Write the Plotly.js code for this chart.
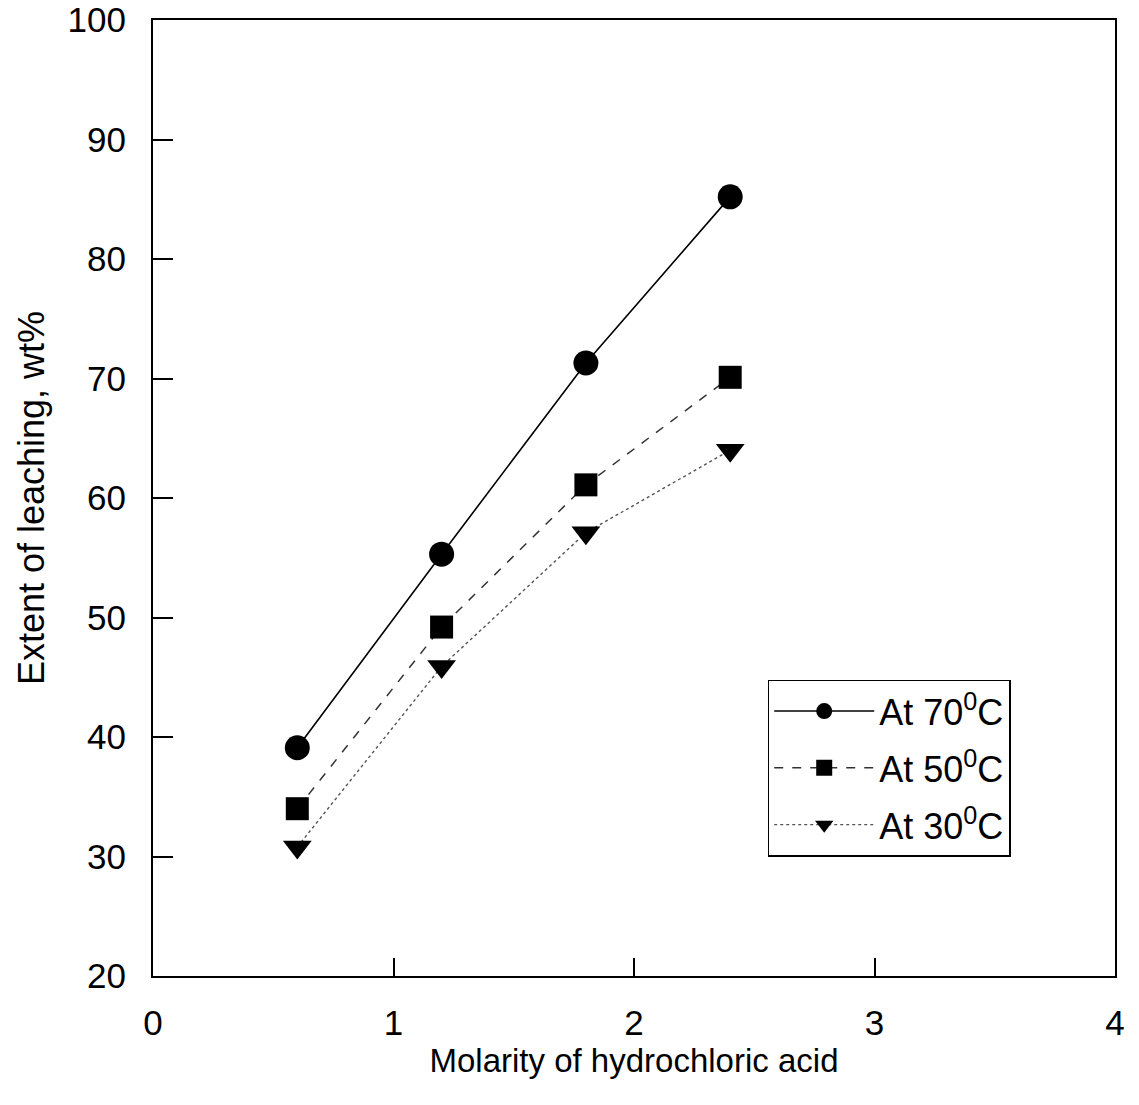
<!DOCTYPE html>
<html>
<head>
<meta charset="utf-8">
<script src="https://cdn.plot.ly/plotly-3.0.1.min.js"></script>
<style>
  html, body { margin: 0; padding: 0; background: #ffffff; }
  #chart { width: 1139px; height: 1105px; }
</style>
</head>
<body>
<div id="chart"></div>
<script>
// HCl molarity (M)
const molarity = [0.6, 1.2, 1.8, 2.4];

// Extent of leaching (wt%) at each temperature
const leach70 = [39.1, 55.3, 71.3, 85.2];
const leach50 = [34.0, 49.2, 61.1, 70.1];
const leach30 = [30.8, 45.9, 57.1, 64.0];

const seriesNames = ['At 70<sup>0</sup>C', 'At 50<sup>0</sup>C', 'At 30<sup>0</sup>C'];

const xTicks = [0, 1, 2, 3, 4];
const yTicks = [20, 30, 40, 50, 60, 70, 80, 90, 100];

const FONT = 'Arial, "Liberation Sans", Helvetica, sans-serif';

const traces = [
  {
    x: molarity, y: leach70, name: seriesNames[0], legendgroup: 'a',
    mode: 'lines+markers', type: 'scatter',
    line: { color: '#000000', width: 1.6, dash: 'solid' },
    marker: { symbol: 'circle', size: 25, color: '#000000' }
  },
  {
    x: molarity, y: leach50, name: seriesNames[1], legendgroup: 'b',
    mode: 'lines+markers', type: 'scatter',
    line: { color: '#333333', width: 1.5, dash: 'dash' },
    marker: { symbol: 'square', size: 23, color: '#000000' }
  },
  {
    x: molarity, y: leach30, name: seriesNames[2], legendgroup: 'c',
    mode: 'lines+markers', type: 'scatter',
    line: { color: '#555555', width: 1.4, dash: 'dot' },
    marker: { symbol: 'triangle-down', size: 25, color: '#000000' }
  }
];

const layout = {
  width: 1139,
  height: 1105,
  paper_bgcolor: '#ffffff',
  plot_bgcolor: '#ffffff',
  margin: { l: 153, r: 24, t: 20, b: 129 },
  font: { family: FONT, color: '#000000', size: 34 },
  showlegend: true,
  legend: {
    x: 0.639, y: 0.31, xanchor: 'left', yanchor: 'top',
    bgcolor: '#ffffff', bordercolor: '#000000', borderwidth: 1.5,
    font: { family: FONT, size: 36, color: '#000000' },
    traceorder: 'grouped', tracegroupgap: 7,
    itemsizing: 'trace', itemwidth: 100
  },
  xaxis: {
    range: [0, 4],
    tickvals: xTicks,
    ticktext: xTicks.map(String),
    ticks: 'inside', ticklen: 18, tickwidth: 2, tickcolor: '#000000',
    ticklabelstandoff: 15,
    ticklabeloverflow: 'allow',
    showline: true, linewidth: 2, linecolor: '#000000', mirror: true,
    showgrid: false, zeroline: false,
    tickfont: { family: FONT, size: 35, color: '#000000' },
    title: { text: 'Molarity of hydrochloric acid', font: { family: FONT, size: 33 }, standoff: 6 }
  },
  yaxis: {
    range: [20, 100],
    tickvals: yTicks,
    ticktext: yTicks.map(String),
    ticks: 'inside', ticklen: 20, tickwidth: 2, tickcolor: '#000000',
    ticklabelstandoff: 18,
    ticklabeloverflow: 'allow',
    showline: true, linewidth: 2, linecolor: '#000000', mirror: true,
    showgrid: false, zeroline: false,
    tickfont: { family: FONT, size: 35, color: '#000000' },
    title: { text: 'Extent of leaching, wt%', font: { family: FONT, size: 36 }, standoff: 12 }
  }
};

Plotly.newPlot('chart', traces, layout, { displayModeBar: false, staticPlot: true });
</script>
</body>
</html>
